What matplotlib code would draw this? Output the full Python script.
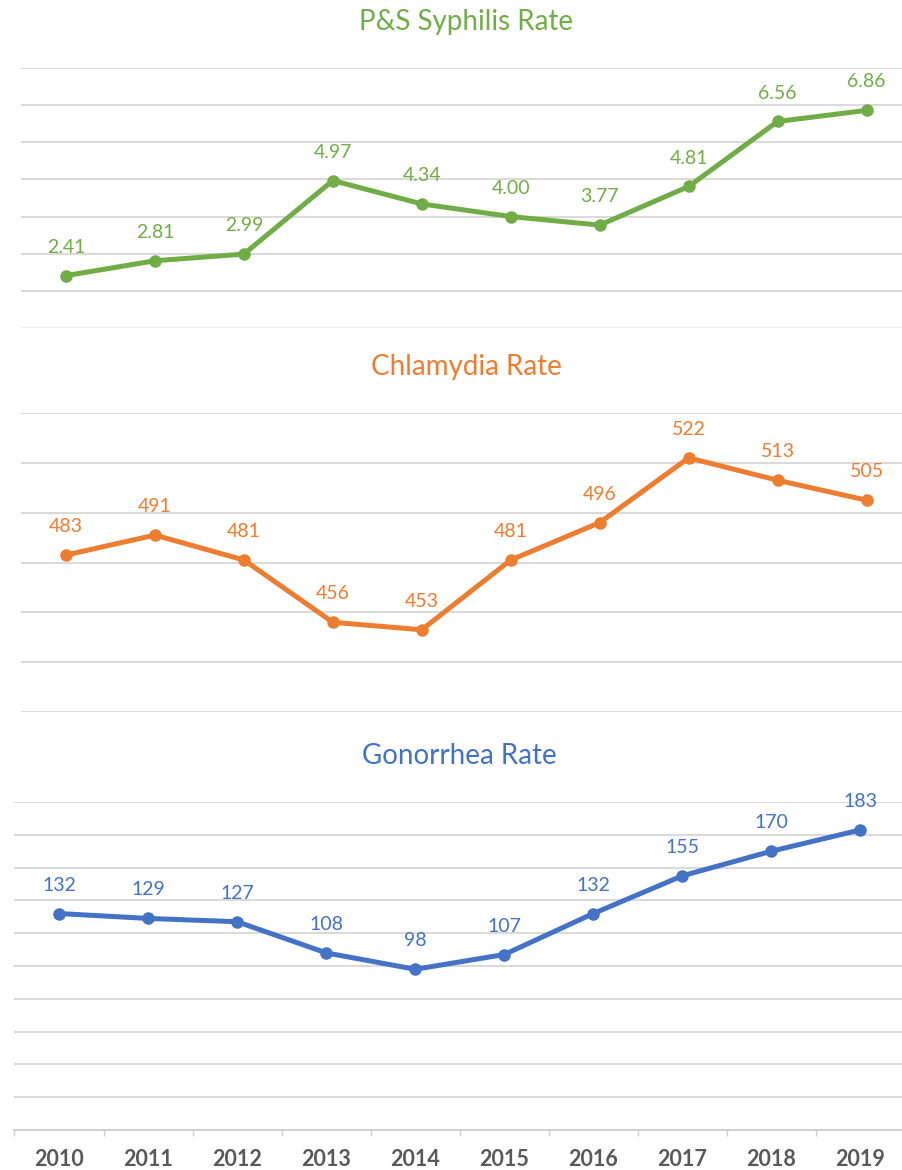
import matplotlib
matplotlib.use("Agg")
import matplotlib.pyplot as plt
import numpy as np

years = ["2010", "2011", "2012", "2013", "2014", "2015", "2016", "2017", "2018", "2019"]
syphilis = [2.41, 2.81, 2.99, 4.97, 4.34, 4.00, 3.77, 4.81, 6.56, 6.86]
chlamydia = [483, 491, 481, 456, 453, 481, 496, 522, 513, 505]
gonorrhea = [132, 129, 127, 108, 98, 107, 132, 155, 170, 183]

titles = ["P&S Syphilis Rate", "Chlamydia Rate", "Gonorrhea Rate"]
colors = ["#70AD47", "#ED7D31", "#4472C4"]
fmts = ["{:.2f}", "{:.0f}", "{:.0f}"]

FONT = "Lato"
plt.rcParams["font.family"] = [FONT, "DejaVu Sans"]

W, H = 903, 1170
fig = plt.figure(figsize=(W / 100, H / 100), dpi=100)

def fx(px):
    return px / W

def fy(px):
    return 1 - px / H

# panel geometry (pixels): left, right, top, bottom
panels = [
    (21.5, 911, 68, 328, (1, 8), np.arange(1, 9, 1)),
    (21.5, 911, 413, 712, (420, 540), np.arange(420, 541, 20)),
    (14.5, 905, 802, 1130, (0, 200), np.arange(0, 201, 20)),
]
series = [syphilis, chlamydia, gonorrhea]
x = np.arange(len(years))

for i, (l, r, t, b, ylim, grid) in enumerate(panels):
    ax = fig.add_axes([fx(l), fy(b), fx(r - l), (b - t) / H])
    ax.set_xlim(-0.5, len(years) - 0.5)
    ax.set_ylim(*ylim)
    for s in ax.spines.values():
        s.set_visible(False)
    for g in grid:
        if i == 2 and g == 0:
            continue
        c = "#D9D9D9"
        if i == 0 and g == ylim[0]:
            c = "#EEEEEE"
        ax.axhline(g, color=c, lw=1.4, zorder=0)
    ax.set_yticks([])
    ax.plot(x, series[i], color=colors[i], lw=3.6, marker="o", ms=8,
            solid_capstyle="round", zorder=3)
    for xi, v in zip(x, series[i]):
        ax.annotate(fmts[i].format(v), xy=(xi, v), xytext=(0, 20.5),
                    textcoords="offset points", ha="center", va="center",
                    color=colors[i], fontsize=14)
    ax.annotate(titles[i], xy=(0.5, 1), xycoords="axes fraction",
                xytext=(0, 46 * 0.72), textcoords="offset points",
                ha="center", va="center", color=colors[i], fontsize=20)
    if i == 2:
        ax.spines["bottom"].set_visible(True)
        ax.spines["bottom"].set_color("#D0D0D0")
        ax.spines["bottom"].set_linewidth(1.4)
        ax.set_xticks(x)
        ax.set_xticklabels(years, fontsize=15.5, fontweight="bold", color="#595959")
        ax.tick_params(axis="x", which="major", length=0, pad=14)
        ax.set_xticks(np.arange(-0.5, len(years), 1.0), minor=True)
        ax.tick_params(axis="x", which="minor", length=4.5, width=1.0, color="#D0D0D0")
    else:
        ax.set_xticks([])

fig.savefig("out.png", dpi=100)
